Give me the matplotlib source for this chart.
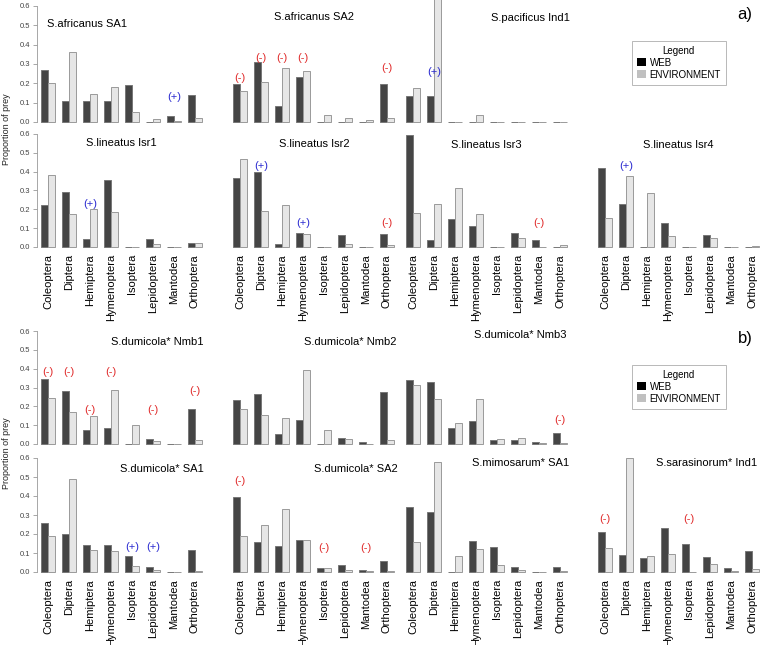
import numpy as np
import matplotlib.pyplot as plt
from matplotlib.patches import Patch

plt.rcParams['font.family'] = ['Liberation Sans', 'DejaVu Sans']

orders = ['Coleoptera', 'Diptera', 'Hemiptera', 'Hymenoptera', 'Isoptera',
          'Lepidoptera', 'Mantodea', 'Orthoptera']

# a) upper row
web_afr_sa1 = [0.27, 0.11, 0.11, 0.11, 0.19, 0.0, 0.03, 0.14]
env_afr_sa1 = [0.20, 0.36, 0.145, 0.18, 0.05, 0.016, 0.004, 0.02]
web_afr_sa2 = [0.195, 0.308, 0.082, 0.233, 0.0, 0.0, 0.0, 0.195]
env_afr_sa2 = [0.16, 0.207, 0.277, 0.264, 0.035, 0.019, 0.009, 0.019]
web_pac_ind1 = [0.134, 0.134, 0.0, 0.0, 0.0, 0.0, 0.0, 0.0]
env_pac_ind1 = [0.174, 0.65, 0.0, 0.035, 0.0, 0.0, 0.0, 0.0]
# a) lower row
web_lin_isr1 = [0.221, 0.29, 0.044, 0.354, 0.0, 0.044, 0.0, 0.021]
env_lin_isr1 = [0.382, 0.175, 0.202, 0.186, 0.0, 0.016, 0.002, 0.021]
web_lin_isr2 = [0.365, 0.396, 0.018, 0.076, 0.0, 0.064, 0.0, 0.069]
env_lin_isr2 = [0.465, 0.193, 0.223, 0.069, 0.0, 0.016, 0.002, 0.011]
web_lin_isr3 = [0.596, 0.035, 0.149, 0.112, 0.0, 0.074, 0.035, 0.002]
env_lin_isr3 = [0.179, 0.228, 0.313, 0.177, 0.002, 0.05, 0.002, 0.011]
web_lin_isr4 = [0.421, 0.227, 0.0, 0.129, 0.0, 0.064, 0.0, 0.0]
env_lin_isr4 = [0.154, 0.377, 0.288, 0.06, 0.0, 0.048, 0.0, 0.003]
# b) upper row
web_dum_nmb1 = [0.346, 0.282, 0.074, 0.085, 0.0, 0.026, 0.002, 0.185]
env_dum_nmb1 = [0.242, 0.169, 0.148, 0.286, 0.099, 0.016, 0.002, 0.021]
web_dum_nmb2 = [0.233, 0.265, 0.053, 0.127, 0.0, 0.032, 0.009, 0.275]
env_dum_nmb2 = [0.185, 0.152, 0.138, 0.392, 0.072, 0.028, 0.002, 0.021]
web_dum_nmb3 = [0.342, 0.328, 0.085, 0.122, 0.023, 0.023, 0.012, 0.06]
env_dum_nmb3 = [0.314, 0.24, 0.111, 0.238, 0.028, 0.034, 0.004, 0.007]
# b) lower row
web_dum_sa1 = [0.259, 0.201, 0.143, 0.143, 0.086, 0.026, 0.002, 0.115]
env_dum_sa1 = [0.192, 0.489, 0.118, 0.113, 0.034, 0.012, 0.002, 0.007]
web_dum_sa2 = [0.397, 0.157, 0.138, 0.171, 0.019, 0.037, 0.012, 0.056]
env_dum_sa2 = [0.192, 0.245, 0.33, 0.169, 0.023, 0.012, 0.004, 0.007]
web_mim_sa1 = [0.344, 0.318, 0.002, 0.161, 0.134, 0.028, 0.002, 0.028]
env_mim_sa1 = [0.159, 0.577, 0.086, 0.12, 0.039, 0.009, 0.002, 0.004]
web_sar_ind1 = [0.212, 0.092, 0.074, 0.231, 0.146, 0.081, 0.019, 0.109]
env_sar_ind1 = [0.125, 0.6, 0.086, 0.095, 0.002, 0.044, 0.004, 0.014]

# significance marks: (order index, sign, height)
ann_afr_sa1 = [(6, '+', 0.127)]
ann_afr_sa2 = [(0, '-', 0.226), (1, '-', 0.33), (2, '-', 0.33), (3, '-', 0.33), (7, '-', 0.278)]
ann_pac_ind1 = [(1, '+', 0.26)]
ann_lin_isr1 = [(2, '+', 0.228)]
ann_lin_isr2 = [(1, '+', 0.428), (3, '+', 0.127), (7, '-', 0.127)]
ann_lin_isr3 = [(6, '-', 0.127)]
ann_lin_isr4 = [(1, '+', 0.428)]
ann_dum_nmb1 = [(0, '-', 0.38), (1, '-', 0.38), (2, '-', 0.178), (3, '-', 0.38), (5, '-', 0.178), (7, '-', 0.279)]
ann_dum_nmb2 = []
ann_dum_nmb3 = [(7, '-', 0.129)]
ann_dum_sa1 = [(4, '+', 0.132), (5, '+', 0.132)]
ann_dum_sa2 = [(0, '-', 0.48), (4, '-', 0.127), (6, '-', 0.127)]
ann_mim_sa1 = []
ann_sar_ind1 = [(0, '-', 0.279), (4, '-', 0.279)]

# (title, web, env, marks, row, col, title x px, title y px)
panels = [
    ('S.africanus SA1', web_afr_sa1, env_afr_sa1, ann_afr_sa1, 0, 0, 87, 24),
    ('S.africanus SA2', web_afr_sa2, env_afr_sa2, ann_afr_sa2, 0, 1, 314, 17),
    ('S.pacificus Ind1', web_pac_ind1, env_pac_ind1, ann_pac_ind1, 0, 2, 530, 18),
    ('S.lineatus Isr1', web_lin_isr1, env_lin_isr1, ann_lin_isr1, 1, 0, 121, 143),
    ('S.lineatus Isr2', web_lin_isr2, env_lin_isr2, ann_lin_isr2, 1, 1, 314, 144),
    ('S.lineatus Isr3', web_lin_isr3, env_lin_isr3, ann_lin_isr3, 1, 2, 486, 145),
    ('S.lineatus Isr4', web_lin_isr4, env_lin_isr4, ann_lin_isr4, 1, 3, 678, 145),
    ('S.dumicola* Nmb1', web_dum_nmb1, env_dum_nmb1, ann_dum_nmb1, 2, 0, 157, 342),
    ('S.dumicola* Nmb2', web_dum_nmb2, env_dum_nmb2, ann_dum_nmb2, 2, 1, 350, 342),
    ('S.dumicola* Nmb3', web_dum_nmb3, env_dum_nmb3, ann_dum_nmb3, 2, 2, 520, 335),
    ('S.dumicola* SA1', web_dum_sa1, env_dum_sa1, ann_dum_sa1, 3, 0, 162, 469),
    ('S.dumicola* SA2', web_dum_sa2, env_dum_sa2, ann_dum_sa2, 3, 1, 356, 469),
    ('S.mimosarum* SA1', web_mim_sa1, env_mim_sa1, ann_mim_sa1, 3, 2, 521, 463),
    ('S.sarasinorum* Ind1', web_sar_ind1, env_sar_ind1, ann_sar_ind1, 3, 3, 707, 463),
]

W, H = 760, 645
col_x = [34, 226, 399, 591]
row_y = [(6, 122), (134, 247), (331, 444), (458, 572)]  # pixel y of 0.6 and 0.0

fig = plt.figure(figsize=(7.6, 6.45), dpi=100)
x = np.arange(len(orders)) * 3

for title, web, env, marks, r, c, tx, ty in panels:
    top, bot = row_y[r]
    ax = fig.add_axes([col_x[c] / W, 1 - bot / H, 168 / W, (bot - top) / H])
    ax.bar(x + 1, web, width=1, align='edge', color='#454545',
           edgecolor='#777777', linewidth=0.7, clip_on=False)
    ax.bar(x + 2, env, width=1, align='edge', color='#e6e6e6',
           edgecolor='#9a9a9a', linewidth=0.7, clip_on=False)
    for i, s, h in marks:
        ax.text(x[i] + 2, h, '(' + s + ')', ha='center', va='center', fontsize=8,
                color='#e02a2a' if s == '-' else '#2a2ad0')
    ax.set_xlim(0, 24)
    ax.set_ylim(0, 0.6)
    ax.patch.set_visible(False)
    for sp in ax.spines.values():
        sp.set_visible(False)
    if c == 0:
        ax.spines['left'].set_visible(True)
        ax.spines['left'].set_position(('data', 0.4))
        ax.spines['left'].set_color('#999999')
        ax.spines['left'].set_linewidth(0.6)
        ax.set_yticks(np.arange(0, 0.61, 0.1))
        ax.set_yticklabels(['%.1f' % v for v in np.arange(0, 0.61, 0.1)])
        ax.tick_params(axis='y', length=3, width=0.6, color='#999999',
                       labelsize=5.5, labelcolor='#444444', pad=2)
    else:
        ax.set_yticks([])
    if r in (1, 3):
        ax.set_xticks(x + 2)
        ax.set_xticklabels(orders, rotation=90, fontsize=8, va='top')
        ax.tick_params(axis='x', length=0, pad=5)
    else:
        ax.set_xticks([])
    fig.text(tx / W, 1 - ty / H, title, ha='center', va='center', fontsize=8)

# y labels for each block
fig.text(7 / W, 1 - 129 / H, 'Proportion of prey', rotation=90, ha='center',
         va='center', fontsize=6.5, color='#222222')
fig.text(7 / W, 1 - 453 / H, 'Proportion of prey', rotation=90, ha='center',
         va='center', fontsize=6.5, color='#222222')

fig.text(745 / W, 1 - 15 / H, 'a)', ha='center', va='center', fontsize=12)
fig.text(745 / W, 1 - 338 / H, 'b)', ha='center', va='center', fontsize=12)

handles = [Patch(facecolor='black', edgecolor='none', label='WEB'),
           Patch(facecolor='#c0c0c0', edgecolor='none', label='ENVIRONMENT')]
for ly in (41, 365):
    leg = fig.legend(handles=handles, title='Legend', loc='upper left',
                     bbox_to_anchor=(632 / W, 1 - ly / H), fontsize=7,
                     title_fontsize=7, frameon=True, fancybox=False,
                     edgecolor='#999999', handlelength=0.9, handleheight=0.9,
                     handletextpad=0.4, borderpad=0.5, labelspacing=0.2,
                     borderaxespad=0)
    leg.get_frame().set_linewidth(0.6)

fig.savefig('out.png', dpi=100)
